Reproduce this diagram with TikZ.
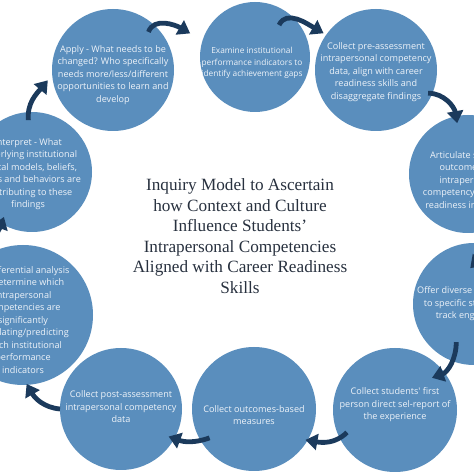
\documentclass[tikz,border=0pt]{standalone}
\usepackage{fontspec}
\usetikzlibrary{arrows.meta,calc}
\newfontfamily\osans{Open Sans}
\newfontfamily\tserif{Liberation Serif}
\definecolor{circblue}{HTML}{5A8EBD}
\definecolor{arrnavy}{HTML}{1B3A5C}
\definecolor{titlecol}{HTML}{28313F}
\definecolor{ctextcol}{HTML}{EEF3F9}
\tikzset{
  stage/.style={circle, fill=circblue, inner sep=0pt, minimum size=#1},
  stagetext/.style={font=\osans\fontsize{9.1}{12.5}\selectfont, text=ctextcol, align=center, inner sep=0pt},
  smallstagetext/.style={stagetext, font=\osans\fontsize{8.3}{11.5}\selectfont},
  cyclearrow/.style={draw=arrnavy, line width=4.8pt, -{Triangle[length=12pt,width=16pt]}},
  titletext/.style={font=\tserif\fontsize{17.2}{20.5}\selectfont, text=titlecol, align=center, inner sep=0pt}
}
\begin{document}
\begin{tikzpicture}[x=1pt,y=1pt]
\useasboundingbox (0,0) rectangle (474,474);
\fill[white] (0,0) rectangle (474,474);
\clip (0,0) rectangle (474,474);

% circles
\node[stage=122pt] (apply) at (113,404) {};
\node[stage=110pt] (examine) at (255,417) {};
\node[stage=122pt] (pre) at (376,404) {};
\node[stage=118pt] (artic) at (468,300) {};
\node[stage=122pt] (offer) at (474,170) {};
\node[stage=124pt] (students) at (395,64) {};
\node[stage=124pt] (outcomes) at (254,65) {};
\node[stage=122pt] (post) at (121,65) {};
\node[stage=140pt] (infer) at (23,159) {};
\node[stage=120pt] (interp) at (32,302) {};

% texts
\node[stagetext] (applyT) at ($(apply)+(0,-5)$) {Apply - What needs to be\\changed? Who specifically\\needs more/less/different\\opportunities to learn and\\develop};
\node[smallstagetext] (examineT) at ($(examine)+(-3,-6)$) {Examine institutional\\performance indicators to\\identify achievement gaps};
\node[stagetext] (preT) at ($(pre)+(0,-2)$) {Collect pre-assessment\\intrapersonal competency\\data, align with career\\readiness skills and\\disaggregate findings};
\node[stagetext] (articT) at ($(artic)+(0,-6)$) {Articulate student\\outcomes for\\intrapersonal\\competency \& career\\readiness indicators};
\node[stagetext] (offerT) at ($(offer)+(0,0)$) {Offer diverse interventions\\to specific students and\\track engagement};
\node[stagetext] (studentsT) at ($(students)+(0,5)$) {Collect students' first\\person direct sel-report of\\the experience};
\node[stagetext] (outcomesT) at ($(outcomes)+(0,-6)$) {Collect outcomes-based\\measures};
\node[stagetext] (postT) at ($(post)+(0,2)$) {Collect post-assessment\\intrapersonal competency\\data};
\node[stagetext] (inferT) at ($(infer)+(0,-5)$) {An inferential analysis\\to determine which\\intrapersonal\\competencies are\\significantly\\correlating/predicting\\which institutional\\performance\\indicators};
\node[stagetext] (interpT) at ($(interp)+(-4,-2)$) {Interpret - What\\underlying institutional\\mental models, beliefs,\\values and behaviors are\\contributing to these\\findings};

% title
\node[titletext] (title) at (240,238) {Inquiry Model to Ascertain\\how Context and Culture\\Influence Students’\\Intrapersonal Competencies\\Aligned with Career Readiness\\Skills};

% arrows
\draw[cyclearrow] ($(apply)+(47:52)$) to[out=70,in=150] ($(examine)+(160:69)$);
\draw[cyclearrow] ($(examine)+(53:40)$) to[out=65,in=150] ($(pre)+(145:64)$);
\draw[cyclearrow] ($(pre)+(-24:57)$) to[out=0,in=100] ($(artic)+(102:52)$);
\draw[cyclearrow] ($(artic)+(-80:55)$) to[out=-45,in=45] ($(offer)+(96:36)$);
\draw[cyclearrow] ($(offer)+(-115:42)$) to[out=-90,in=20] ($(students)+(41:49)$);
\draw[cyclearrow] ($(students)+(-155:53)$) to[out=-135,in=-10] ($(outcomes)+(-31:60)$);
\draw[cyclearrow] ($(outcomes)+(-147:53)$) to[out=-160,in=-20] ($(post)+(-30:55)$);
\draw[cyclearrow] ($(post)+(180:61)$) to[out=175,in=-60] ($(infer)+(-87:69)$);
\draw[cyclearrow] ($(infer)+(111:70)$) to[out=120,in=-110] ($(interp)+(-122:53)$);
\draw[cyclearrow] ($(interp)+(94:52)$) to[out=95,in=-130] ($(apply)+(189:66)$);
\end{tikzpicture}
\end{document}
